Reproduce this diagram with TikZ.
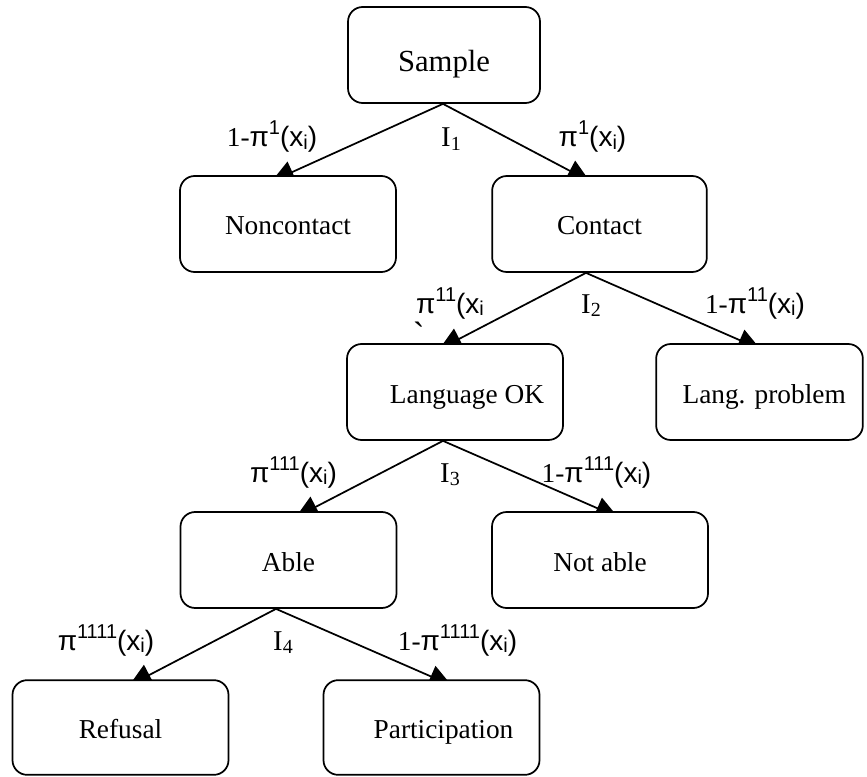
\documentclass[tikz,border=0pt]{standalone}
\usepackage{fontspec}
\setmainfont{Liberation Serif}
\newfontfamily\arialf{Liberation Sans}
\usetikzlibrary{arrows.meta,calc}
\pgfdeclarelayer{bg}
\pgfsetlayers{bg,main}
\newcommand\labsup[1]{\raisebox{9pt}{\fontsize{15}{15}\selectfont #1}}
\newcommand\labsub[1]{\raisebox{-2pt}{\fontsize{15}{15}\selectfont #1}}
\newcommand\onem{{\rmfamily\fontsize{20.5}{22}\selectfont 1-}}
\newcommand\isub[1]{I\raisebox{-2.5pt}{\fontsize{15}{15}\selectfont #1}}
\tikzset{
  box/.style={draw, line width=1.3pt, rounded corners=11pt, fill=white,
    minimum width=#1, minimum height=72pt, inner sep=0pt,
    text height=16.5pt, text depth=0pt,
    font=\fontsize{20.5}{23}\selectfont},
  box/.default=162pt,
  conn/.style={line width=1.3pt, -{Triangle[length=17pt,width=17pt]}},
  lab/.style={anchor=base, inner sep=0pt, font=\arialf\fontsize{21}{25}\selectfont},
  ilab/.style={anchor=base, inner sep=0pt, font=\fontsize{21.5}{24}\selectfont},
}
\begin{document}
\begin{tikzpicture}[x=0.75pt,y=-0.75pt]
\useasboundingbox (0,0) rectangle (867,777);
% boxes
\node[box=144pt, text height=25.5pt, font=\fontsize{23}{26}\selectfont] (sample) at (444,55) {Sample};
\node[box] (noncontact) at (288,224) {Noncontact};
\node[box=161pt] (contact) at (599.5,224) {Contact};
\node[box] (langok) at (455,392) {\hspace*{18pt}Language OK};
\node[box=155pt] (langprob) at (759.5,392) {\hspace*{7pt}Lang. problem};
\node[box] (able) at (288.5,560) {Able};
\node[box] (notable) at (600,560) {Not able};
\node[box, minimum height=71pt] (refusal) at (120.5,727.5) {Refusal};
\node[box, minimum height=71pt] (particip) at (431.5,727.5) {\hspace*{18pt}Participation};
% connector end points
\coordinate (a1) at ($(sample.south)+(-1,0)$);
\coordinate (a2) at ($(contact.south)+(-13.5,0)$);
\coordinate (a3) at ($(langok.south)+(-12,0)$);
\coordinate (a4) at ($(able.south)+(-12.5,0)$);
\coordinate (c1) at ($(noncontact.north)+(-2.6,0)$);
\coordinate (c2) at ($(contact.north)+(-21.5,0)$);
\coordinate (c3) at ($(langok.north)+(-4,0)$);
\coordinate (c4) at ($(langprob.north)+(-13,0)$);
\coordinate (c5) at ($(able.north)+(19,0)$);
\coordinate (c6) at ($(notable.north)+(4,0)$);
\coordinate (c7) at ($(refusal.north)+(20.5,0)$);
\coordinate (c8) at ($(particip.north)+(6,0)$);
\begin{pgfonlayer}{bg}
\draw[conn] (a1) -- ($(a1)!1.0875!(c1)$);
\draw[conn] (a1) -- ($(a1)!1.0875!(c2)$);
\draw[conn] (a2) -- ($(a2)!1.0875!(c3)$);
\draw[conn] (a2) -- ($(a2)!1.0875!(c4)$);
\draw[conn] (a3) -- ($(a3)!1.0875!(c5)$);
\draw[conn] (a3) -- ($(a3)!1.0875!(c6)$);
\draw[conn] (a4) -- ($(a4)!1.0875!(c7)$);
\draw[conn] (a4) -- ($(a4)!1.0875!(c8)$);
\end{pgfonlayer}
% labels row 1
\node[lab] (l1a) at (272,147) {\onem π\labsup{1}(x\labsub{i})};
\node[ilab] (i1) at (451,147) {\isub{1}};
\node[lab] (l1b) at (592.5,147) {π\labsup{1}(x\labsub{i})};
% row 2
\node[lab] (l2a) at (450,313) {π\labsup{11}(x\labsub{i}};
\node[lab, anchor=center, font=\arialf\fontsize{26}{26}\selectfont] (tick) at (419,335) {\textasciigrave};
\node[ilab] (i2) at (591,313) {\isub{2}};
\node[lab] (l2b) at (755,313) {\onem π\labsup{11}(x\labsub{i})};
% row 3
\node[lab] (l3a) at (293.5,482) {π\labsup{111}(x\labsub{i})};
\node[ilab] (i3) at (450,482) {\isub{3}};
\node[lab] (l3b) at (596.5,482) {\onem π\labsup{111}(x\labsub{i})};
% row 4
\node[lab] (l4a) at (106,650) {π\labsup{1111}(x\labsub{i})};
\node[ilab] (i4) at (283,650) {\isub{4}};
\node[lab] (l4b) at (457.5,650) {\onem π\labsup{1111}(x\labsub{i})};
\end{tikzpicture}
\end{document}
